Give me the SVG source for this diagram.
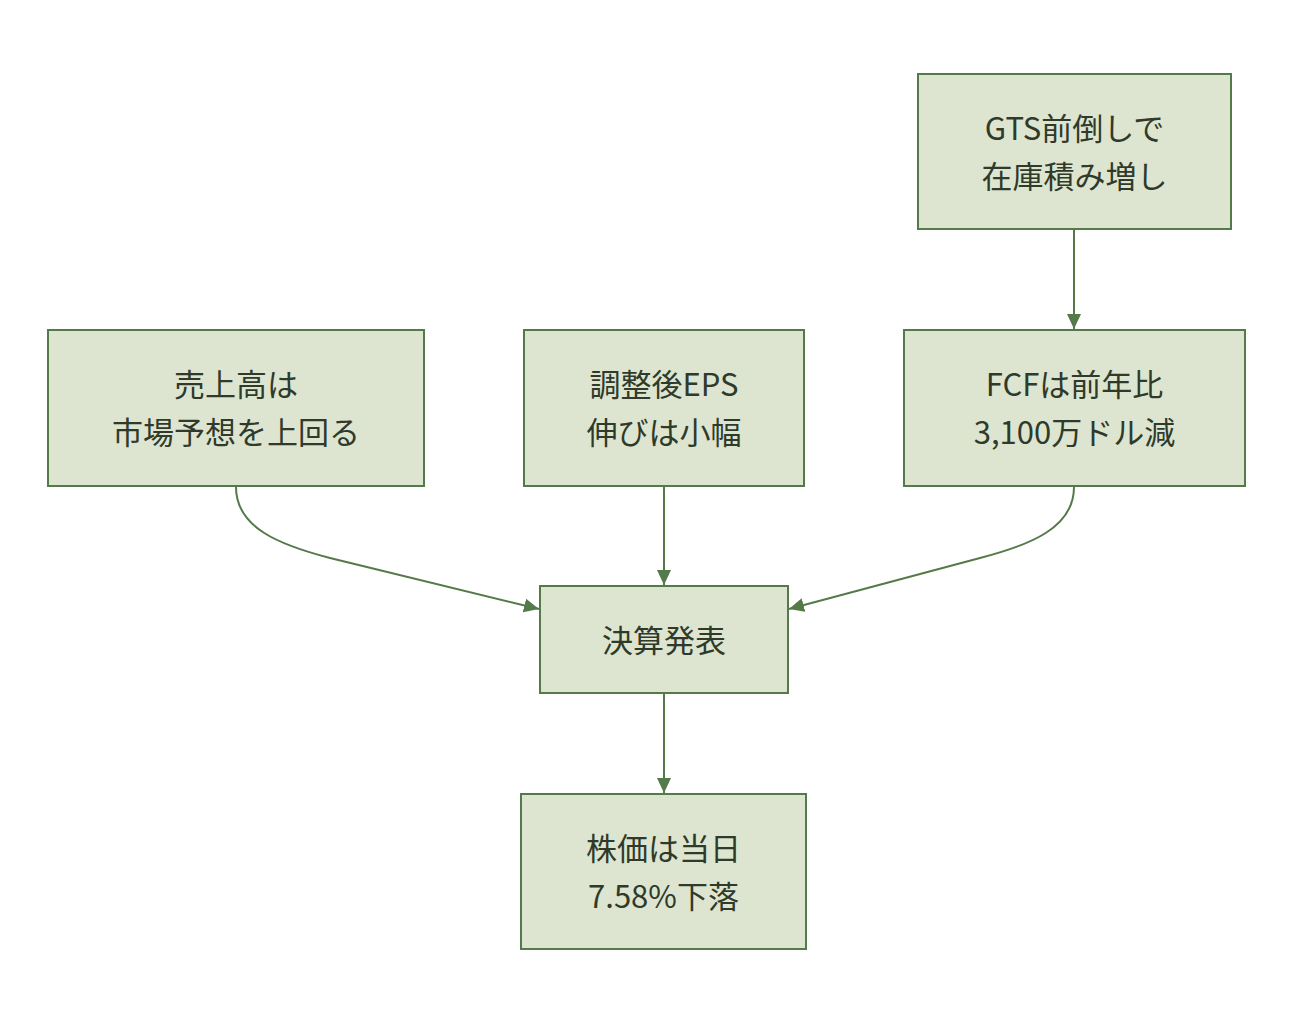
<svg xmlns="http://www.w3.org/2000/svg" width="1294" height="1028" viewBox="0 0 1294 1028">
  <style>
    .box { fill: #dde5d0; stroke: #557a4a; stroke-width: 2; }
    .lbl { font-family: "Noto Sans CJK JP", "Liberation Sans", sans-serif; font-size: 31px; fill: #2f3a2a; text-anchor: middle; dominant-baseline: central; }
    .edge { fill: none; stroke: #557a4a; stroke-width: 2; marker-end: url(#arrow); }
  </style>
  <defs>
    <marker id="arrow" markerUnits="userSpaceOnUse" markerWidth="16" markerHeight="16" viewBox="0 0 16 16" refX="15" refY="8" orient="auto">
      <path d="M0,1 L15,8 L0,15 Z" fill="#557a4a"/>
    </marker>
  </defs>
  <rect width="1294" height="1028" fill="#ffffff"/>

  <g id="connectors">
    <path class="edge" d="M1074,230 L1074,329"/>
    <path class="edge" d="M236,487 C236,528 280,545 330,558 L539,609"/>
    <path class="edge" d="M664,487 L664,585"/>
    <path class="edge" d="M1074,487 C1074,528 1030,545 980,558 L789,609"/>
    <path class="edge" d="M664,694 L664,793"/>
  </g>

  <g id="gts">
    <rect class="box" x="918" y="74" width="313" height="155"/>
    <text class="lbl" x="1074.5" y="126">GTS前倒しで</text>
    <text class="lbl" x="1074.5" y="174">在庫積み増し</text>
  </g>
  <g id="revenue">
    <rect class="box" x="48" y="330" width="376" height="156"/>
    <text class="lbl" x="236" y="382">売上高は</text>
    <text class="lbl" x="236" y="430">市場予想を上回る</text>
  </g>
  <g id="eps">
    <rect class="box" x="524" y="330" width="280" height="156"/>
    <text class="lbl" x="664" y="382">調整後EPS</text>
    <text class="lbl" x="664" y="430">伸びは小幅</text>
  </g>
  <g id="fcf">
    <rect class="box" x="904" y="330" width="341" height="156"/>
    <text class="lbl" x="1074.5" y="382">FCFは前年比</text>
    <text class="lbl" x="1074.5" y="430">3,100万ドル減</text>
  </g>
  <g id="earnings">
    <rect class="box" x="540" y="586" width="248" height="107"/>
    <text class="lbl" x="664" y="638">決算発表</text>
  </g>
  <g id="stock">
    <rect class="box" x="521" y="794" width="285" height="155"/>
    <text class="lbl" x="663.5" y="846">株価は当日</text>
    <text class="lbl" x="663.5" y="894">7.58%下落</text>
  </g>
</svg>
